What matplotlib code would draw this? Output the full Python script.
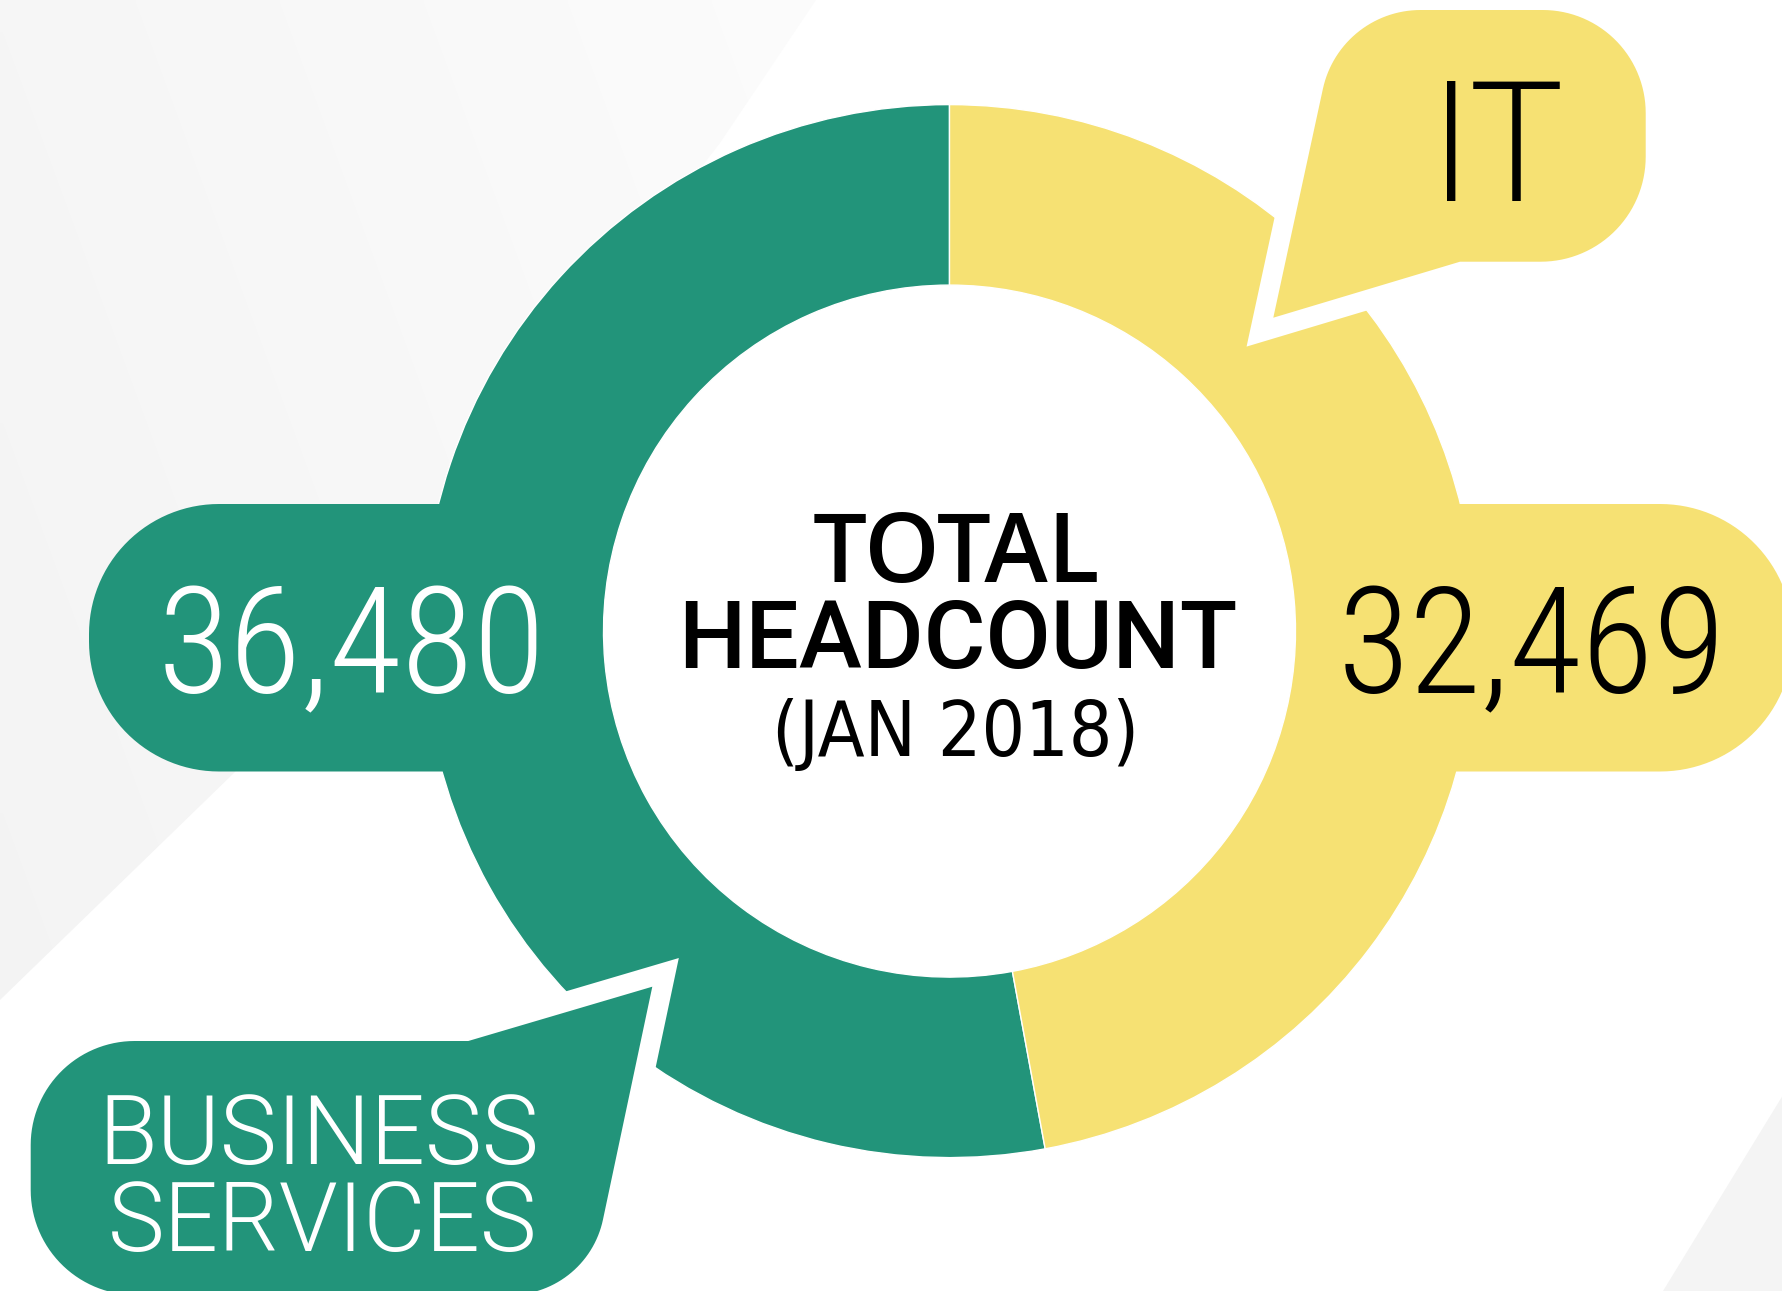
import os
import numpy as np
import matplotlib
matplotlib.use("Agg")
import matplotlib.pyplot as plt
import matplotlib.font_manager as fm
from matplotlib.font_manager import FontProperties
from matplotlib.patches import Polygon
from matplotlib.textpath import TextPath

# ---------------- data ----------------
categories = ["BUSINESS SERVICES", "IT"]
headcount = [36480, 32469]
colors = ["#22947A", "#F6E173"]
title_lines = ["TOTAL", "HEADCOUNT", "(JAN 2018)"]
value_labels = [f"{v:,}" for v in headcount]

# ---------------- canvas ----------------
W, H = 1783, 1291
DPI = 100
fig = plt.figure(figsize=(W / DPI, H / DPI), dpi=DPI)
fig.patch.set_facecolor("white")
ax = fig.add_axes([0, 0, 1, 1])


def flip(pts):
    pts = np.asarray(pts, float)
    return np.column_stack([pts[:, 0], H - pts[:, 1]])


def rounded_poly(pts, radii, n=32):
    pts = [np.array(p, float) for p in pts]
    out = []
    N = len(pts)
    for i in range(N):
        p, r = pts[i], radii[i]
        if r <= 0:
            out.append(p)
            continue
        a, b = pts[i - 1], pts[(i + 1) % N]
        u = (a - p) / np.linalg.norm(a - p)
        v = (b - p) / np.linalg.norm(b - p)
        th = np.arccos(np.clip(np.dot(u, v), -1, 1))
        d = r / np.tan(th / 2)
        t1, t2 = p + u * d, p + v * d
        bis = (u + v) / np.linalg.norm(u + v)
        c = p + bis * r / np.sin(th / 2)
        a1 = np.arctan2(*(t1 - c)[::-1])
        a2 = np.arctan2(*(t2 - c)[::-1])
        da = (a2 - a1 + np.pi) % (2 * np.pi) - np.pi
        angs = a1 + da * np.linspace(0, 1, n)
        out.extend(np.column_stack([c[0] + r * np.cos(angs), c[1] + r * np.sin(angs)]))
    return np.array(out)


# ---------------- background shapes ----------------
bg_pts = flip([(0, 0), (816, 0), (720, 143), (235, 772), (0, 1000)])
bg_patch = Polygon(bg_pts, closed=True, facecolor="none", edgecolor="none", zorder=0)
ax.add_patch(bg_patch)
gx, gy = np.meshgrid(np.linspace(0, W, 300), np.linspace(0, H, 220))
grad = 0.965 + 0.019 * (gx / 700.0) - 0.008 * (gy / 800.0)
grad = np.clip(grad, 0.94, 0.99)
im = ax.imshow(np.dstack([grad] * 3), extent=[0, W, 0, H], origin="upper",
               interpolation="bilinear", zorder=0.5, aspect="auto")
im.set_clip_path(bg_patch)

ax.add_patch(Polygon(flip([(1783, 1095), (1663, 1291), (1783, 1291)]), closed=True,
                     facecolor="#F4F4F4", edgecolor="none", zorder=0.6))

# ---------------- donut ----------------
CX, CY = 949.5, 631.1
R_OUT, R_IN = 526.5, 346.0
ax.pie(headcount, colors=colors, startangle=90, counterclock=True, radius=R_OUT,
       center=(CX, H - CY), frame=False,
       wedgeprops=dict(width=R_OUT - R_IN, edgecolor="white", linewidth=1.0, zorder=2))

# value bubbles (left / right)
left_b = rounded_poly([(89, 504), (560, 504), (560, 771.5), (89, 771.5)], [130, 0, 0, 130])
ax.add_patch(Polygon(flip(left_b), closed=True, facecolor=colors[0], edgecolor="none", zorder=3))
right_b = rounded_poly([(1320, 504), (1793, 504), (1793, 771.5), (1320, 771.5)], [0, 133, 133, 0])
ax.add_patch(Polygon(flip(right_b), closed=True, facecolor=colors[1], edgecolor="none", zorder=3))

# category speech bubbles
GAP_LW = 40 * 72 / DPI  # 20 px white gap on each side
it_b = rounded_poly([(1273.3, 317.7), (1340, 10), (1645.7, 10), (1645.7, 261.7), (1460, 261.7)],
                    [0, 100, 103, 105, 0])
ax.add_patch(Polygon(flip(it_b), closed=True, facecolor="white", edgecolor="white",
                     linewidth=GAP_LW, joinstyle="miter", zorder=4))
ax.add_patch(Polygon(flip(it_b), closed=True, facecolor=colors[1], edgecolor="none", zorder=5))

bs_b = rounded_poly([(652.3, 986.7), (587, 1295), (30.7, 1295), (30.7, 1041), (468.3, 1041)],
                    [0, 95, 105, 104, 0])
ax.add_patch(Polygon(flip(bs_b), closed=True, facecolor="white", edgecolor="white",
                     linewidth=GAP_LW, joinstyle="miter", zorder=4))
ax.add_patch(Polygon(flip(bs_b), closed=True, facecolor=colors[0], edgecolor="none", zorder=5))

ax.set_xlim(0, W)
ax.set_ylim(0, H)
ax.set_aspect("equal")
ax.axis("off")

# ---------------- fonts ----------------
font_files = {}
for e in fm.fontManager.ttflist:
    font_files.setdefault(os.path.splitext(os.path.basename(e.fname))[0].lower(), e.fname)
try:
    for f in fm.findSystemFonts(fontext="ttf") + fm.findSystemFonts(fontext="otf"):
        font_files.setdefault(os.path.splitext(os.path.basename(f))[0].lower(), f)
except Exception:
    pass

WIDTHS = ["ExtraCondensed", "Condensed", "SemiCondensed", ""]


def noto(weights):
    return [f"NotoSans-{w}{wt}" for w in WIDTHS for wt in weights]


THIN = noto(["ExtraLight", "Thin"]) + ["Roboto-Thin", "Lato-Hairline", "Lato-Thin",
                                      "Inter-ExtraLight", "Inter-Thin", "DejaVuSans-ExtraLight"]
LIGHT = noto(["Light"]) + ["Roboto-Light", "RobotoCondensed-Light", "Lato-Light",
                           "OpenSans-Light", "Inter-Light", "LiberationSansNarrow-Regular",
                           "DejaVuSansCondensed"]
REGULAR = ["NotoSans-ExtraCondensed", "NotoSans-Condensed", "NotoSans-SemiCondensed",
           "NotoSans-Regular", "Roboto-Regular", "DejaVuSans"]
MEDIUM = noto(["Medium", "SemiBold"]) + ["Roboto-Medium", "RobotoCondensed-Bold", "Inter-Medium",
                                         "Inter-SemiBold", "OpenSans-SemiBold"]
BOLD = noto(["Bold"]) + ["Roboto-Bold", "Lato-Bold", "LiberationSansNarrow-Bold",
                         "DejaVuSansCondensed-Bold", "DejaVuSans-Bold"]


def pool(pref, second):
    out = []
    for names, pen in ((pref, 0.0), (second, 0.10)):
        for n in names:
            f = font_files.get(n.lower())
            if f:
                out.append((f, pen))
    return out


POOLS = {
    "thin": pool(THIN, LIGHT),
    "light": pool(LIGHT, THIN + REGULAR),
    "medium": pool(MEDIUM, BOLD),
}


def place(s, cx, base, cap, width, kind, color, overflow=1.03):
    best = None
    for fname, pen in POOLS[kind]:
        try:
            fp = FontProperties(fname=fname)
            capr = TextPath((0, 0), "H", size=100, prop=fp).get_extents().height / 100
            wr = TextPath((0, 0), s, size=100, prop=fp).get_extents().width / 100
        except Exception:
            continue
        score = abs(np.log((wr / capr) / (width / cap))) + pen
        if best is None or score < best[0]:
            best = (score, fp, capr, wr)
    if best is None:
        fp = FontProperties(family="DejaVu Sans", weight="bold" if kind == "medium" else "light")
        capr = TextPath((0, 0), "H", size=100, prop=fp).get_extents().height / 100
        wr = TextPath((0, 0), s, size=100, prop=fp).get_extents().width / 100
        best = (0, fp, capr, wr)
    _, fp, capr, wr = best
    ppt = DPI / 72.0
    size = min(cap / (capr * ppt), overflow * width / (wr * ppt))
    fp = fp.copy()
    fp.set_size(size)
    ax.text(cx, H - base, s, fontproperties=fp, color=color, ha="center",
            va="baseline", zorder=10)


# centre title
place(title_lines[0], 956, 581.7, 69, 275, "medium", "black")
place(title_lines[1], 958, 668.3, 67.3, 541.5, "medium", "black")
place(title_lines[2], 956, 755.7, 55.7, 359, "light", "black")

# values
place(value_labels[0], 351.6, 693.7, 128, 341.6, "thin", "white", overflow=1.09)
place(value_labels[1], 1532, 693.7, 128, 340.7, "thin", "black", overflow=1.09)

# categories
place(categories[1], 1495.3, 200.7, 120, 116, "light", "black")
bs_lines = categories[0].split()
place(bs_lines[0], 319, 1163.9, 68.3, 432, "light", "white")
place(bs_lines[1], 322.5, 1251, 68, 423, "light", "white")

fig.savefig("out.png", dpi=DPI, facecolor="white")
